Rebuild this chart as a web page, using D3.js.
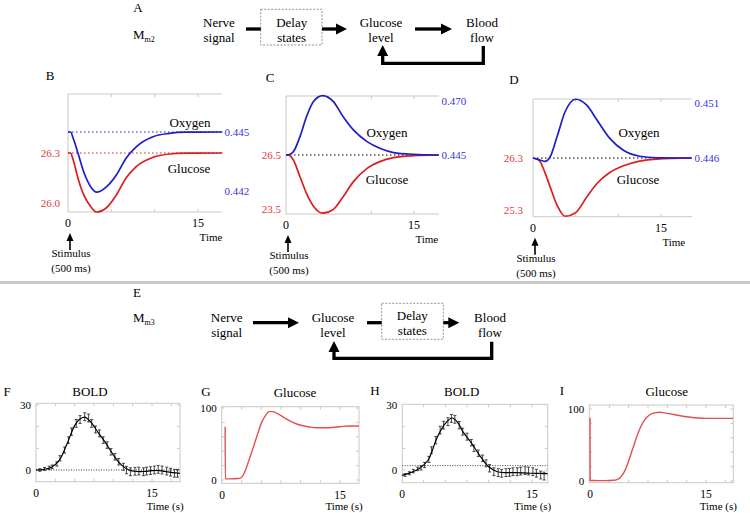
<!DOCTYPE html>
<html><head><meta charset="utf-8">
<script src="https://cdn.jsdelivr.net/npm/d3@7"></script>
<style>body{margin:0;background:#fff} svg text{font-family:"Liberation Serif","DejaVu Serif",serif}</style>
</head><body><svg id="c" width="750" height="513" font-family="Liberation Serif, DejaVu Serif, serif"></svg>
<script>
// ---------- DATA ----------
// Panel B (Mm2, stimulus response)
const bTime    = [0,0.3,0.6,1.2,1.8,2.6,3.3,4.4,5.6,6.7,7.9,9.8,11.7,13.5,17.8];
const bGlucose = [26.3,26.3,26.258,26.14,26.05,25.98,25.946,25.97,26.05,26.15,26.22,26.274,26.294,26.299,26.3];
const bOxygen  = [0.445,0.445,0.44468,0.44385,0.44299,0.44223,0.44194,0.4422,0.44283,0.44367,0.44426,0.44476,0.44493,0.44499,0.445];
const bGluTicks = ["26.3","26.0"];
const bOxyTicks = ["0.445","0.442"];
// Panel C
const cTime    = [0,0.3,0.86,1.64,2.4,3.2,4.3,5.55,6.7,7.9,9.5,11,12.6,14.9,17.9];
const cGlucose = [26.5,26.49,26.22,25.29,24.37,23.67,23.27,23.48,24.18,25.02,25.76,26.13,26.35,26.46,26.5];
const cOxygen  = [0.445,0.4451,0.4465,0.4535,0.4627,0.4697,0.4725,0.4697,0.4627,0.4566,0.4512,0.4481,0.4461,0.4453,0.445];
const cGluTicks = ["26.5","23.5"];
const cOxyTicks = ["0.470","0.445"];
// Panel D
const dTime    = [0,0.63,1.4,2.0,2.8,3.75,5.0,6.3,7.5,9.0,10.6,12.5,14.5,18.6];
const dGlucose = [26.3,26.27,26.02,25.75,25.4,25.18,25.25,25.55,25.81,26.02,26.15,26.24,26.28,26.3];
const dOxygen  = [0.446,0.44585,0.4457,0.44609,0.4479,0.45018,0.45134,0.4508,0.44945,0.44778,0.4467,0.44616,0.44602,0.446];
const dGluTicks = ["26.3","25.3"];
const dOxyTicks = ["0.451","0.446"];
// Panel F (BOLD, data with error bars and fit)
const fTime = [0.5,1.1,1.7,2.1,2.7,3.1,3.7,4.2,4.6,5.2,5.7,6.3,6.8,7.2,7.7,8.2,8.7,9.2,9.7,10.2,10.7,11.3,11.7,12.2,12.8,13.3,13.9,14.3,14.8,15.3,15.8,16.3,16.9,17.4,17.9,18.3];
const fBold = [0,0.5,1,1.5,2.8,5.4,9.2,13.8,17.7,21.5,23.3,24.6,24,21.5,18.7,16.9,13.8,11.5,8.4,6.1,3.8,1.5,0,-0.8,-0.6,-0.5,-0.8,-0.5,-0.3,0,0.3,0,-0.5,-1,-1.5,-1.5];
const fErr  = [0.6,0.7,0.8,0.8,1,1.2,1.4,1.5,1.7,1.8,1.8,1.8,1.8,1.8,1.6,1.6,1.5,1.5,1.5,1.5,1.5,1.6,1.7,1.8,1.8,1.8,1.8,1.8,1.8,1.8,1.8,1.8,1.8,1.8,1.8,1.8];
const fFitTime = [0,1,2,3,4,5,5.6,6.3,7,8,9,10,11,12,13,14,15,16,17,18.6];
const fFit     = [0,0.3,1.3,4.4,12,20.5,23.3,24.4,22.5,17.5,12.5,7,2.5,0,-0.7,-0.7,-0.3,-0.3,-0.9,-1.6];
// Panel G (Glucose, %)
const gTime    = [0.4,0.42,1,2,2.3,2.5,3,3.5,4,4.5,5,5.5,6,6.5,7,8,9,10,11,12,13,14,15,16,17.4];
const gGlucose = [74,1.5,1.5,2,2.5,4,14,30,46,63,79,89,95,95,92.5,86,80,76,74,72.5,72.5,73,74,75,75];
// Panel H (BOLD)
const hTime = [0.35,0.85,1.3,1.8,2.2,2.6,3.1,3.4,3.9,4.4,4.8,5.3,5.7,6.1,6.6,7.0,7.5,8.0,8.3,8.8,9.3,9.7,10.1,10.6,11.1,11.5,12.0,12.4,12.8,13.3,13.7,14.2,14.6,15.1,15.5,16.0,16.4];
const hBold = [-2.3,-1.5,-0.5,0.5,1,2.3,4.9,9.2,13.8,18.4,20.7,22.3,23.8,23.4,20.7,17.7,15.4,12.6,10,7.7,5.4,3.1,0.8,-0.8,-1.2,-1.5,-1.2,-1.1,-0.8,-0.8,-0.5,-0.3,-0.5,-0.8,-1.5,-2.3,-2.8];
const hErr  = [0.6,0.7,0.8,0.8,1,1.2,1.4,1.5,1.7,1.8,1.8,1.8,1.8,1.8,1.7,1.6,1.6,1.5,1.5,1.5,1.5,1.6,1.7,1.8,1.8,1.8,1.8,1.8,1.8,1.8,1.8,1.8,1.8,1.8,1.8,1.8,1.8];
const hFitTime = [0,1,2,3,3.5,4,5,5.8,6.5,7,8,9,10,11,12,13,14,15,16,16.8];
const hFit     = [-2.5,-1.2,0.7,4.5,9,14.5,21.5,24,21.5,17.8,12.5,6.5,1.5,-0.8,-1.2,-1.2,-1.3,-1.5,-1.6,-1.7];
const hBaseline = 2;
// Panel I (Glucose, %)
const iTime    = [0,0.02,1,2,3,3.5,4,4.5,5,5.5,6,6.5,7,7.5,8,8.5,9,9.5,10,11,12,13,14,15,16,17,18.5];
const iGlucose = [88,1,0.5,0.5,1,2,6,14,28,44,60,74,84,90,93.5,95,95.5,95,94,92,90,88.5,87.5,87,87,87,87];
const timeTicks = ["0","15"];

// ---------- DRAW ----------
const FONT = "'Liberation Serif','DejaVu Serif',serif";
const svg = d3.select("#c");
svg.append("rect").attr("width",750).attr("height",513).attr("fill","#fff");
const GRID="#c8c8c8", RED="#dc1e1e", BLUE="#1e1ec8", RED_T="#e03a3a", BLUE_T="#3535d5", RED_G="#e05050";

function txt(x,y,s,size,anchor,fill){
  return svg.append("text").attr("x",x).attr("y",y).attr("dy","0.35em")
    .attr("font-family",FONT)
    .attr("font-size",size||13).attr("text-anchor",anchor||"middle")
    .attr("fill",fill||"#000").text(s);
}
function arrowH(x1,x2,y,head){
  svg.append("line").attr("x1",x1).attr("x2",head?x2-9:x2).attr("y1",y).attr("y2",y)
    .attr("stroke","#000").attr("stroke-width",3.3);
  if(head) svg.append("path").attr("d",`M${x2},${y}L${x2-11},${y-5.5}L${x2-11},${y+5.5}Z`).attr("fill","#000");
}
function feedback(xa,ya,yb,xb,yTip){
  svg.append("path").attr("d",`M${xa},${ya}V${yb}H${xb}V${yTip+9}`).attr("fill","none")
    .attr("stroke","#000").attr("stroke-width",3.3).attr("stroke-linejoin","miter");
  svg.append("path").attr("d",`M${xb},${yTip}L${xb-5.5},${yTip+11}L${xb+5.5},${yTip+11}Z`).attr("fill","#000");
}
function delayBox(x,y,w,h){
  svg.append("rect").attr("x",x).attr("y",y).attr("width",w).attr("height",h)
    .attr("fill","none").attr("stroke","#777").attr("stroke-width",0.8).attr("stroke-dasharray","2,1.5");
}
function mLabel(x,y,sub){
  const t=svg.append("text").attr("x",x).attr("y",y).attr("dy","0.35em").attr("font-size",13).attr("font-family",FONT);
  t.append("tspan").text("M");
  t.append("tspan").attr("font-size",8).attr("dy",3).text(sub);
}

// Diagram A
txt(138,7,"A");
mLabel(133,34,"m2");
txt(219,22.5,"Nerve"); txt(219,37,"signal");
arrowH(246,261,29,false);
delayBox(260.7,9.3,61.3,35.7);
txt(291.7,22.5,"Delay"); txt(291.7,37,"states");
arrowH(322,347,29,true);
txt(381,22.5,"Glucose"); txt(381,37,"level");
arrowH(415,452,29,true);
txt(482,22.5,"Blood"); txt(482,37,"flow");
feedback(483.3,46,63.3,382.7,45);

// Diagram E
svg.append("line").attr("x1",0).attr("x2",750).attr("y1",282.5).attr("y2",282.5).attr("stroke",GRID).attr("stroke-width",3);
txt(137,292,"E");
mLabel(133,317,"m3");
txt(226.7,317,"Nerve"); txt(226.7,332,"signal");
arrowH(253,299,322.7,true);
txt(333,317,"Glucose"); txt(333,332,"level");
arrowH(367,382,322.7,false);
delayBox(381.7,303.3,61.6,36);
txt(412.3,315.5,"Delay"); txt(412.3,330,"states");
arrowH(443.3,459.3,322.7,true);
txt(490,317,"Blood"); txt(490,332,"flow");
feedback(491.7,341.7,358.3,334,341);

// Stimulus panels B, C, D
function stimPanel(c){
  const x=d3.scaleLinear().domain([0,15]).range([c.x0,c.x15]);
  const yR=d3.scaleLinear().domain([+c.gluTicks[1],+c.gluTicks[0]]).range(c.gluPx);
  const yB=d3.scaleLinear().domain([+c.oxyTicks[1],+c.oxyTicks[0]]).range(c.oxyPx);
  const g=svg.append("g");
  g.append("path").attr("d",`M${c.right},${c.top}H${c.x0}V${c.bottom}H${c.right}`).attr("fill","none").attr("stroke",GRID).attr("stroke-width",1);
  [5,10,15].forEach(t=>{
    g.append("line").attr("x1",x(t)).attr("x2",x(t)).attr("y1",c.top).attr("y2",c.top+3).attr("stroke",GRID);
    g.append("line").attr("x1",x(t)).attr("x2",x(t)).attr("y1",c.bottom).attr("y2",c.bottom-3).attr("stroke",GRID);
  });
  if(c.coloredBase){
    g.append("line").attr("x1",c.x0).attr("x2",c.right).attr("y1",yB(c.oxy[0])).attr("y2",yB(c.oxy[0])).attr("stroke",BLUE).attr("stroke-dasharray","1.5,2.5").attr("stroke-width",1.2);
    g.append("line").attr("x1",c.x0).attr("x2",c.right).attr("y1",yR(c.glu[0])).attr("y2",yR(c.glu[0])).attr("stroke",RED).attr("stroke-dasharray","1.5,2.5").attr("stroke-width",1.2);
  } else {
    g.append("line").attr("x1",c.x0).attr("x2",c.right).attr("y1",yR(c.glu[0])).attr("y2",yR(c.glu[0])).attr("stroke","#000").attr("stroke-dasharray","1.5,2.5").attr("stroke-width",1.2);
  }
  const lr=d3.line().x((d,i)=>x(c.time[i])).y(d=>yR(d)).curve(d3.curveMonotoneX);
  const lb=d3.line().x((d,i)=>x(c.time[i])).y(d=>yB(d)).curve(d3.curveMonotoneX);
  g.append("path").attr("d",lr(c.glu)).attr("fill","none").attr("stroke",RED).attr("stroke-width",1.7);
  g.append("path").attr("d",lb(c.oxy)).attr("fill","none").attr("stroke",BLUE).attr("stroke-width",1.7);
  c.gluTicks.forEach(s=>txt(c.leftLabX,yR(+s),s,11,"end",RED_T));
  c.oxyTicks.forEach(s=>txt(c.right+2.5,yB(+s),s,11,"start",BLUE_T));
  timeTicks.forEach(s=>txt(x(+s),c.bottom+11,s,12));
  txt(x(16.5),c.bottom+25,"Time",11);
  txt(c.oxyLab[0],c.oxyLab[1],"Oxygen",13);
  txt(c.gluLab[0],c.gluLab[1],"Glucose",13);
  const sx=x(0)+2;
  svg.append("line").attr("x1",sx).attr("x2",sx).attr("y1",c.bottom+38).attr("y2",c.bottom+27).attr("stroke","#000").attr("stroke-width",1.6);
  svg.append("path").attr("d",`M${sx},${c.bottom+21}L${sx-3.5},${c.bottom+29}L${sx+3.5},${c.bottom+29}Z`).attr("fill","#000");
  txt(sx+1,c.bottom+41.5,"Stimulus",11);
  txt(sx+1,c.bottom+56,"(500 ms)",11);
  txt(c.letter[1],c.letter[2],c.letter[0],13);
}
stimPanel({letter:["B",50,75],x0:68,x15:198,right:222,top:94,bottom:212,
  gluTicks:bGluTicks,gluPx:[203,153],oxyTicks:bOxyTicks,oxyPx:[191,132],
  time:bTime,glu:bGlucose,oxy:bOxygen,coloredBase:true,leftLabX:60,
  oxyLab:[190,122],gluLab:[189,168]});
stimPanel({letter:["C",270,77],x0:286,x15:414,right:439,top:96,bottom:214,
  gluTicks:cGluTicks,gluPx:[209,155],oxyTicks:cOxyTicks,oxyPx:[155,101],
  time:cTime,glu:cGlucose,oxy:cOxygen,coloredBase:false,leftLabX:281,
  oxyLab:[387,132],gluLab:[387,179]});
stimPanel({letter:["D",514,79],x0:533,x15:661,right:692,top:99,bottom:216.7,
  gluTicks:dGluTicks,gluPx:[210,158],oxyTicks:dOxyTicks,oxyPx:[158,103],
  time:dTime,glu:dGlucose,oxy:dOxygen,coloredBase:false,leftLabX:523,
  oxyLab:[639,132],gluLab:[638,179]});

// Small panels F, G, H, I
function smallPanel(c){
  const x=d3.scaleLinear().domain([0,15]).range([c.x0,c.x15]);
  const y=d3.scaleLinear().domain([0,c.yTop]).range([c.y0px,c.yTopPx]);
  const g=svg.append("g");
  g.append("rect").attr("x",c.left).attr("y",c.top).attr("width",c.right-c.left).attr("height",c.bottom-c.top)
    .attr("fill","none").attr("stroke",GRID).attr("stroke-width",1);
  const xMax=x.invert(c.right);
  for(let t=2.5;t<xMax-0.3;t+=2.5){
    g.append("line").attr("x1",x(t)).attr("x2",x(t)).attr("y1",c.top).attr("y2",c.top+3).attr("stroke",GRID);
    g.append("line").attr("x1",x(t)).attr("x2",x(t)).attr("y1",c.bottom).attr("y2",c.bottom-3).attr("stroke",GRID);
  }
  const yMin=y.invert(c.bottom), yMax=y.invert(c.top);
  for(let v=Math.ceil(yMin/c.yStep)*c.yStep; v<=yMax; v+=c.yStep){
    if(y(v)>c.bottom-1||y(v)<c.top+1) continue;
    g.append("line").attr("x1",c.left).attr("x2",c.left+3).attr("y1",y(v)).attr("y2",y(v)).attr("stroke",GRID);
    g.append("line").attr("x1",c.right).attr("x2",c.right-3).attr("y1",y(v)).attr("y2",y(v)).attr("stroke",GRID);
  }
  if(c.base!==undefined){
    g.append("line").attr("x1",c.left).attr("x2",c.right).attr("y1",y(c.base)).attr("y2",y(c.base))
      .attr("stroke","#000").attr("stroke-width",0.8).attr("stroke-dasharray","1,1.5");
  }
  if(c.err){
    c.time.forEach((t,i)=>{
      const xv=x(t), y1=y(c.vals[i]-c.err[i]), y2=y(c.vals[i]+c.err[i]);
      g.append("line").attr("x1",xv).attr("x2",xv).attr("y1",y1).attr("y2",y2).attr("stroke","#333").attr("stroke-width",0.9);
      g.append("line").attr("x1",xv-1.5).attr("x2",xv+1.5).attr("y1",y1).attr("y2",y1).attr("stroke","#333").attr("stroke-width",0.9);
      g.append("line").attr("x1",xv-1.5).attr("x2",xv+1.5).attr("y1",y2).attr("y2",y2).attr("stroke","#333").attr("stroke-width",0.9);
    });
    const lf=d3.line().x((d,i)=>x(c.fitTime[i])).y(d=>y(d)).curve(d3.curveCatmullRom);
    g.append("path").attr("d",lf(c.fit)).attr("fill","none").attr("stroke","#000").attr("stroke-width",1.2);
  } else {
    const l=d3.line().x((d,i)=>x(c.time[i])).y(d=>y(d)).curve(d3.curveMonotoneX);
    g.append("path").attr("d",l(c.vals)).attr("fill","none").attr("stroke",RED_G).attr("stroke-width",1.4);
  }
  txt(c.left-5,y(0),"0",11,"end");
  txt(c.left-5,y(c.yTop),String(c.yTop),11,"end");
  timeTicks.forEach(s=>txt(x(+s),c.bottom+11.5,s,11.5));
  txt(c.right-15,506,"Time (s)",11);
  txt(c.title[1],c.title[2],c.title[0],13);
  txt(c.letter[1],c.letter[2],c.letter[0],13);
}
smallPanel({letter:["F",7,391],title:["BOLD",90,391.5],left:36,right:180,top:403.3,bottom:481.7,
  x0:36,x15:152,y0px:470,yTop:30,yTopPx:405,yStep:10,base:0,
  time:fTime,vals:fBold,err:fErr,fitTime:fFitTime,fit:fFit});
smallPanel({letter:["G",206,391],title:["Glucose",295,392],left:221.7,right:359,top:406.7,bottom:483.3,
  x0:222,x15:340,y0px:480,yTop:100,yTopPx:408,yStep:20,
  time:gTime,vals:gGlucose});
smallPanel({letter:["H",375,390],title:["BOLD",461.7,391.5],left:402.3,right:547.7,top:404.3,bottom:482.7,
  x0:402,x15:532,y0px:470,yTop:30,yTopPx:405,yStep:10,base:hBaseline,
  time:hTime,vals:hBold,err:hErr,fitTime:hFitTime,fit:hFit});
smallPanel({letter:["I",562,390],title:["Glucose",666.7,391],left:589.3,right:733.3,top:405,bottom:482.7,
  x0:590,x15:706,y0px:481,yTop:100,yTopPx:409,yStep:20,
  time:iTime,vals:iGlucose});
</script></body></html>
